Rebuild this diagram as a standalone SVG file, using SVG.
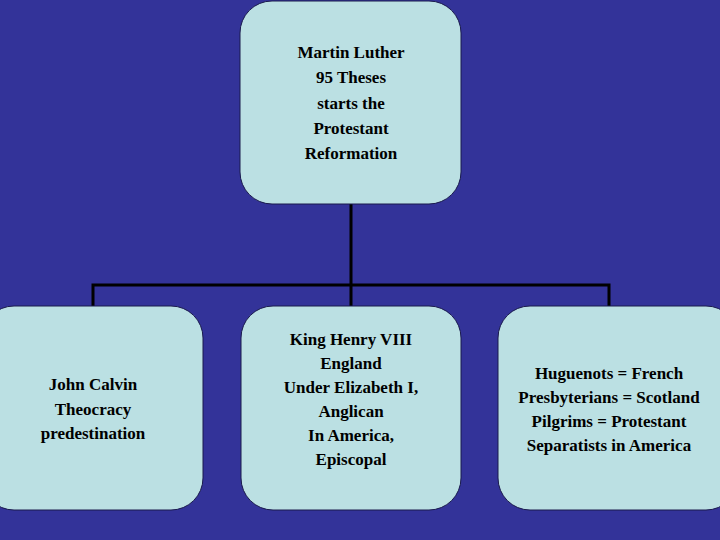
<svg xmlns="http://www.w3.org/2000/svg" width="720" height="540" viewBox="0 0 720 540">
<style>
.b{fill:#bbe0e3;stroke:#1a1a4d;stroke-width:1}
.t{font-family:"Liberation Serif",serif;font-weight:bold;font-size:17px;fill:#000;text-anchor:middle}
.c{fill:none;stroke:#000;stroke-width:3}
</style>
<rect width="720" height="540" fill="#333399"/>
<g id="connectors">
<path class="c" d="M351 204V285M93 306V285H609V306M351 285V306"/>
</g>
<g id="luther"><rect class="b" x="240" y="1" width="221" height="203" rx="32"/>
<text class="t" x="351" y="58">Martin Luther</text><text class="t" x="351" y="83">95 Theses</text><text class="t" x="351" y="109">starts the</text><text class="t" x="351" y="134">Protestant</text><text class="t" x="351" y="159">Reformation</text></g>
<g id="calvin"><rect class="b" x="-18" y="306" width="221" height="204" rx="32"/>
<text class="t" x="93" y="390">John Calvin</text><text class="t" x="93" y="415">Theocracy</text><text class="t" x="93" y="439">predestination</text></g>
<g id="henry"><rect class="b" x="241" y="306" width="220" height="204" rx="32"/>
<text class="t" x="351" y="345">King Henry VIII</text><text class="t" x="351" y="369">England</text><text class="t" x="351" y="393">Under Elizabeth I,</text><text class="t" x="351" y="417">Anglican</text><text class="t" x="351" y="441">In America,</text><text class="t" x="351" y="465">Episcopal</text></g>
<g id="huguenots"><rect class="b" x="498" y="306" width="240" height="204" rx="32"/>
<text class="t" x="609" y="379">Huguenots = French</text><text class="t" x="609" y="403">Presbyterians = Scotland</text><text class="t" x="609" y="427">Pilgrims = Protestant</text><text class="t" x="609" y="451">Separatists in America</text></g>
</svg>
